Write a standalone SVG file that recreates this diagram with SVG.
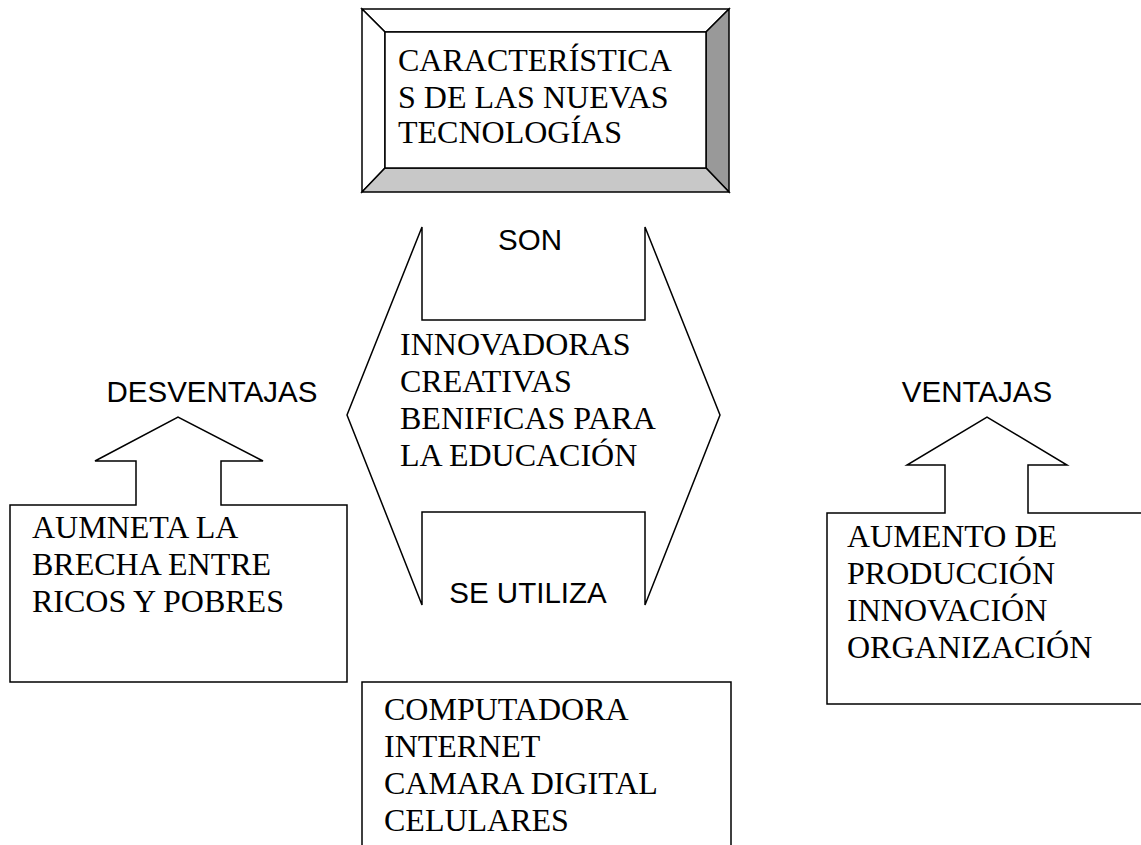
<svg xmlns="http://www.w3.org/2000/svg" width="1141" height="845" viewBox="0 0 1141 845">
<style>
.ln{stroke:#000;stroke-width:1.5;stroke-linejoin:miter}
.w{fill:#fff}
.t{font-family:"Liberation Serif","Times New Roman",serif;font-size:32px;fill:#000}
.s{font-family:"Liberation Sans",Arial,sans-serif;font-size:29.5px;fill:#000;text-anchor:middle}
</style>
<rect width="1141" height="845" fill="#fff"/>
<g id="titulo">
<polygon class="ln w" points="362,9 729,9 706,32 385,32"/>
<polygon class="ln w" points="362,9 385,32 385,168 362,192"/>
<polygon class="ln" fill="#999" points="729,9 729,192 706,168 706,32"/>
<polygon class="ln" fill="#c8c8c8" points="362,192 385,168 706,168 729,192"/>
<rect class="ln w" x="385" y="32" width="321" height="136"/>
<text class="t" x="398" y="71">CARACTERÍSTICA</text>
<text class="t" x="398" y="108">S DE LAS NUEVAS</text>
<text class="t" x="398" y="143">TECNOLOGÍAS</text>
</g>
<g id="centro">
<polygon class="ln w" points="422,227 422,320 645,320 645,227 720,415 645,605 645,512 422,512 422,605 347,415"/>
<text class="s" x="530" y="250">SON</text>
<text class="t" x="400" y="355">INNOVADORAS</text>
<text class="t" x="400" y="392">CREATIVAS</text>
<text class="t" x="400" y="429">BENIFICAS PARA</text>
<text class="t" x="400" y="466">LA EDUCACIÓN</text>
<text class="s" x="528" y="603">SE UTILIZA</text>
</g>
<g id="desventajas">
<text class="s" x="212" y="402">DESVENTAJAS</text>
<polygon class="ln w" points="10,505 136,505 136,461 95,461 178,417 263,461 221,461 221,505 347,505 347,682 10,682"/>
<text class="t" x="32" y="538">AUMNETA LA</text>
<text class="t" x="32" y="575">BRECHA ENTRE</text>
<text class="t" x="32" y="612">RICOS Y POBRES</text>
</g>
<g id="ventajas">
<text class="s" x="977" y="402">VENTAJAS</text>
<polygon class="ln w" points="827,513 945,513 945,465 907,465 987,417 1067,465 1028,465 1028,513 1150,513 1150,704 827,704"/>
<text class="t" x="847" y="547">AUMENTO DE</text>
<text class="t" x="847" y="584">PRODUCCIÓN</text>
<text class="t" x="847" y="621">INNOVACIÓN</text>
<text class="t" x="847" y="658">ORGANIZACIÓN</text>
</g>
<g id="herramientas">
<polyline class="ln w" points="362,850 362,682 731,682 731,850"/>
<text class="t" x="384" y="720">COMPUTADORA</text>
<text class="t" x="384" y="757">INTERNET</text>
<text class="t" x="384" y="794">CAMARA DIGITAL</text>
<text class="t" x="384" y="831">CELULARES</text>
</g>
<g id="conectores"></g>
</svg>
